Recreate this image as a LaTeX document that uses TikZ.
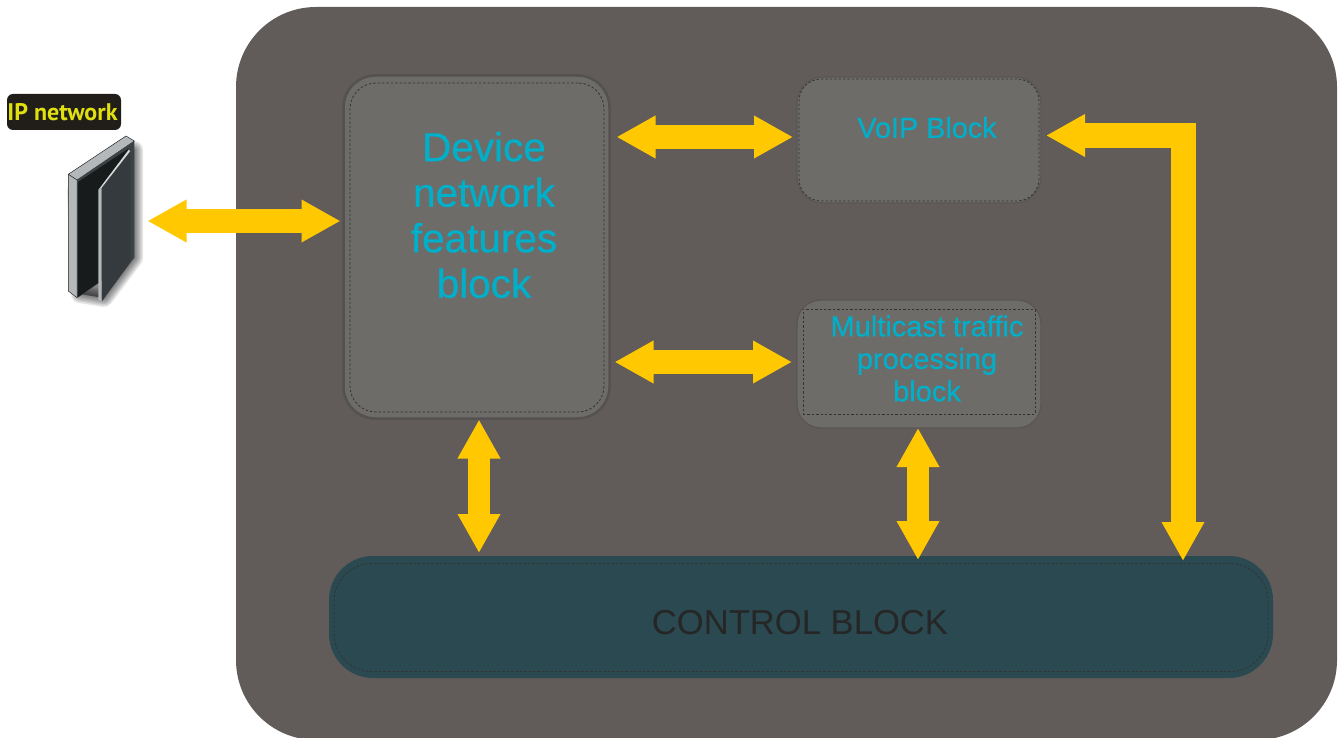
\documentclass[tikz,border=0pt]{standalone}
\usepackage{fontspec}
\setmainfont{Liberation Sans}
\newfontfamily\blockfont[FakeBold=0.5]{Liberation Sans}
\newfontfamily\labelfont{PT Sans}
\usepackage{tikz}
\usetikzlibrary{arrows.meta}
\definecolor{chassis}{HTML}{615C5A}
\definecolor{blockgray}{HTML}{6E6C69}
\definecolor{blockline}{HTML}{545150}
\definecolor{controlteal}{HTML}{2A4950}
\definecolor{linkyellow}{HTML}{FFC800}
\definecolor{blocktext}{HTML}{00B0CA}
\definecolor{tagdark}{HTML}{211E1A}
\definecolor{taglime}{HTML}{E0E010}
\definecolor{doorface}{HTML}{343A3D}
\definecolor{doorgap}{HTML}{171B1C}
\definecolor{doorframe}{HTML}{3B4245}
\definecolor{doorlight}{HTML}{B4B8BB}
\begin{document}
\begin{tikzpicture}[x=1pt,y=-1pt,>={Triangle[length=39pt,width=40pt]}]
  \tikzstyle{every node}=[inner sep=0pt,outer sep=0pt]
  \tikzstyle{block}=[rectangle,rounded corners=32pt,fill=blockgray,draw=blockline]
  \tikzstyle{dashbox}=[rectangle,rounded corners=26pt,draw=black!80,line width=0.8pt,dash pattern=on 2.4pt off 2pt]
  \tikzstyle{blockname}=[align=center,text=blocktext]
  \tikzstyle{link}=[<->,draw=linkyellow,line width=24pt]

  \useasboundingbox (0,0) rectangle (1340,738);

  \node[rectangle,rounded corners=80pt,fill=chassis,minimum width=1101pt,minimum height=733pt] (chassis) at (786.5,373.5) {};

  \node[block,line width=2.5pt,minimum width=266pt,minimum height=343pt] (devblock) at (476.5,247) {};
  \node[block,draw=blockline!60!chassis,line width=1.2pt,minimum width=244pt,minimum height=126pt,rounded corners=26pt] (voipblock) at (919,140) {};
  \node[block,draw=blockline!60!chassis,line width=1.2pt,minimum width=244pt,minimum height=128pt,rounded corners=24pt] (mcastblock) at (919,364) {};
  \node[rectangle,rounded corners=44pt,fill=controlteal,minimum width=944pt,minimum height=122pt] (controlblock) at (801,617) {};

  \node[dashbox,minimum width=254pt,minimum height=329pt] (devdash) at (477,247.5) {};
  \node[dashbox,minimum width=240pt,minimum height=122pt,rounded corners=22pt] (voipdash) at (919,140) {};
  \node[dashbox,minimum width=232pt,minimum height=105pt,rounded corners=0pt] (mcastdash) at (919,361.5) {};
  \node[dashbox,minimum width=934pt,minimum height=108pt,rounded corners=38pt] (controldash) at (801,617.5) {};

  \node[blockname,font=\blockfont\fontsize{40.5}{45.5}\selectfont] (devtext) at (484,215) {Device\\network\\features\\block};
  \node[blockname,font=\blockfont\fontsize{28.8}{32}\selectfont] (voiptext) at (927,127.5) {VoIP Block};
  \node[blockname,font=\blockfont\fontsize{29}{32.5}\selectfont] (mcasttext) at (927,358.5) {Multicast traffic\\processing\\block};
  \node[text=black!85,font=\fontsize{34.6}{40}\selectfont] (controltext) at (800,623) {CONTROL BLOCK};

  % door icon
  \node[minimum width=67pt,minimum height=167pt] (ipdoor) at (101,221) {};
  \foreach \w in {18,15,12,9,6,3}
    \fill[black,opacity=.1,draw=black,line width=\w pt,line join=round]
      (76,190) -- (130,150) -- (134,150) -- (134,258) -- (104,298) -- (80,294) -- cycle;
  \fill[fill=doorframe] (68.3,174.3) -- (126,136) -- (134.3,141) -- (134.3,258) -- (77.7,297.7) -- (68.3,291) -- cycle;
  \fill[fill=doorgap] (78,182) -- (128,149) -- (128,262) -- (78,297) -- cycle;
  \fill[fill=doorlight,draw=black!80,line width=0.5pt] (68.3,174.3) -- (126,136) -- (134.3,141) -- (77,180) -- cycle;
  \fill[fill=doorlight,draw=black!80,line width=0.5pt] (68.3,174.3) -- (77,180) -- (77,297.7) -- (68.3,291) -- cycle;
  \fill[fill=doorface] (101.7,187.7) -- (130.3,151) -- (130.3,261.7) -- (101.7,301.7) -- cycle;
  \fill[fill=black!15!white] (98.3,190) -- (128.5,150) -- (130.3,151) -- (101.7,187.7) -- cycle;
  \fill[fill=doorlight] (98.3,190) -- (101.7,187.7) -- (101.7,301.7) -- (98.3,300) -- cycle;
  \node[rectangle,rounded corners=6pt,fill=tagdark,minimum width=114pt,minimum height=36pt] (iptag) at (64,112) {};
  \node[text=taglime,font=\labelfont\bfseries\fontsize{24}{27}\selectfont] (iptext) at (62.5,112) {IP network};

  \coordinate (voipport) at ([yshift=3pt]voipblock.west);
  \coordinate (mcastport) at ([yshift=2pt]mcastblock.west);
  \coordinate (devfoot) at ([xshift=2.5pt]devblock.south);
  \coordinate (mcastfoot) at ([xshift=-1pt]mcastblock.south);
  \coordinate (voipfeed) at ([yshift=4.5pt]voipblock.east);
  \coordinate (controlfeed) at (1183,556);

  \draw[link,shorten <=13pt,shorten >=3pt] (ipdoor.east) -- (ipdoor.east -| devblock.west);
  \draw[link,shorten <=7pt,shorten >=4pt] (devblock.east |- voipport) -- (voipport);
  \draw[link,shorten <=5pt,shorten >=5pt] (devblock.east |- mcastport) -- (mcastport);
  \draw[link,line width=22pt,shorten <=1pt,shorten >=3pt] (devfoot) -- (devfoot |- controlblock.north);
  \draw[link,line width=22pt,shorten >=-4pt] (mcastfoot) -- (mcastfoot |- controlblock.north);
  \draw[link,line width=25pt,shorten <=5pt,shorten >=-5pt] (voipfeed) -| (controlfeed);
\end{tikzpicture}
\end{document}
